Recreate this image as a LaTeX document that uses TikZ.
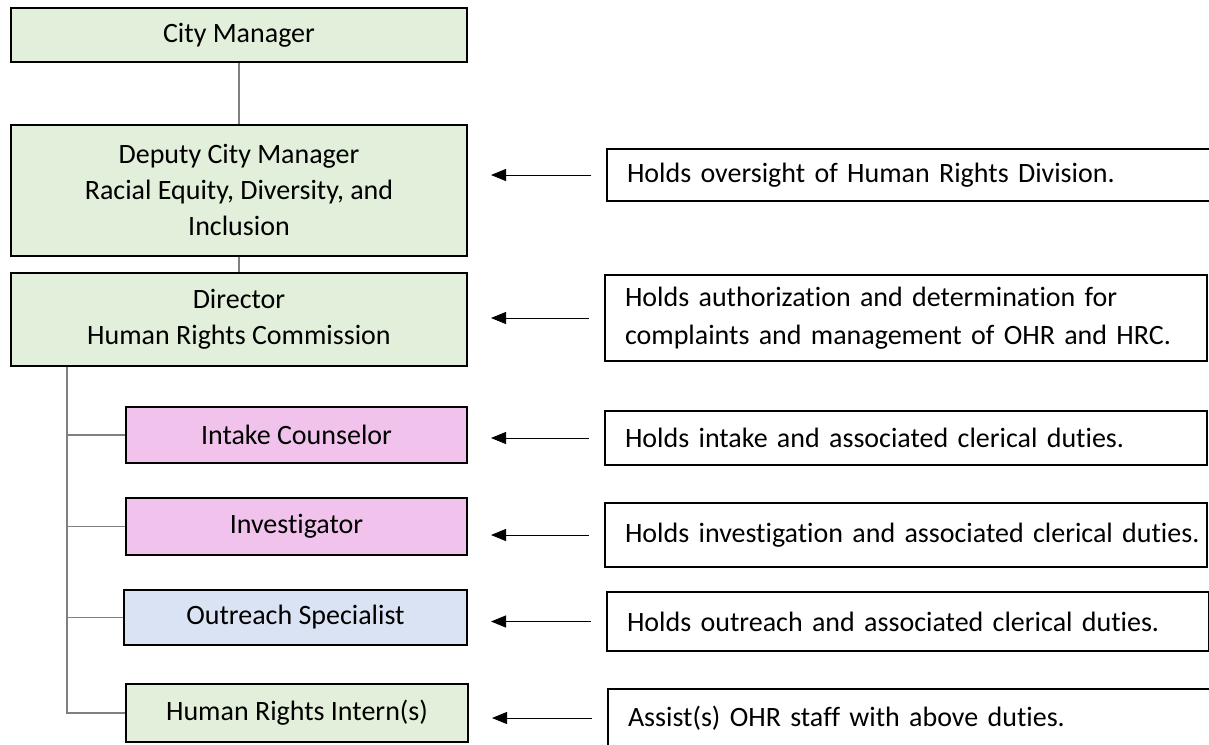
\documentclass[tikz,border=0pt]{standalone}
\usepackage{fontspec}
\setmainfont{Carlito}[Ligatures=NoCommon]
\usetikzlibrary{arrows.meta}
\definecolor{postgreen}{HTML}{E2EFDA}
\definecolor{postpink}{HTML}{F1C3EC}
\definecolor{postblue}{HTML}{DAE3F3}
\definecolor{linkgray}{HTML}{808080}
\tikzset{
    post/.style={draw=black, line width=2pt, align=center, inner sep=0pt, font=\fontsize{28}{36}\selectfont},
    duty/.style={draw=black, line width=2pt, align=left, anchor=west, inner xsep=20pt, inner ysep=0pt, text width=562pt, font=\fontsize{28}{38}\selectfont},
    link/.style={draw=linkgray, line width=1.3pt},
    pointer/.style={-{Triangle[length=15pt,width=12pt]}, line width=1pt, shorten <=15pt, shorten >=23pt}
}

\begin{document}
\begin{tikzpicture}[x=1pt,y=-1pt]
    \useasboundingbox (0,0) rectangle (1209,744);
    \node[post, fill=postgreen, minimum width=456pt, minimum height=54pt] (cm) at (239,35) {City Manager};
    \node[post, fill=postgreen, minimum width=456pt, minimum height=131pt] (dcm) at (239,190) {Deputy City Manager\\Racial Equity, Diversity, and\\Inclusion};
    \node[post, fill=postgreen, minimum width=456pt, minimum height=93pt] (dir) at (239,319) {Director\\Human Rights Commission};
    \node[post, fill=postpink, minimum width=341pt, minimum height=56pt] (intake) at (296.5,435) {Intake Counselor};
    \node[post, fill=postpink, minimum width=341pt, minimum height=57pt] (inv) at (296.5,526.5) {Investigator};
    \node[post, fill=postblue, minimum width=343pt, minimum height=55pt] (outreach) at (295.5,617.5) {Outreach Specialist};
    \node[post, fill=postgreen, minimum width=342pt, minimum height=58pt] (intern) at (297,713) {Human Rights Intern(s)};

    \node[duty, minimum height=52pt, text width=580pt] (d1) at (606,175) {Holds oversight of Human Rights Division.};
    \node[duty, minimum height=86pt] (d2) at (604,318) {Holds authorization and determination for\\complaints and management of OHR and HRC.};
    \node[duty, minimum height=54pt] (d3) at (604,438) {Holds intake and associated clerical duties.};
    \node[duty, minimum height=64pt] (d4) at (604,535) {\mbox{Holds investigation and associated clerical duties.}};
    \node[duty, minimum height=59pt] (d5) at (606,621.5) {Holds outreach and associated clerical duties.};
    \node[duty, minimum height=58pt, text width=580pt] (d6) at (607,718) {Assist(s) OHR staff with above duties.};

    \coordinate (trunk) at (67,0);
    \draw[link] (cm.south) -- (dcm.north);
    \draw[link] (dcm.south) -- (dir.north);
    \draw[link] (dir.south -| trunk) |- (intern.west);
    \draw[link] (trunk |- intake.west) -- (intake.west);
    \draw[link] (trunk |- inv.west) -- (inv.west);
    \draw[link] (trunk |- outreach.west) -- (outreach.west);

    \draw[pointer] (d1.west) -- (d1.west -| dcm.east);
    \draw[pointer] (d2.west) -- (d2.west -| dir.east);
    \draw[pointer] (d3.west) -- (d3.west -| intake.east);
    \draw[pointer] (d4.west) -- (d4.west -| inv.east);
    \draw[pointer] (d5.west) -- (d5.west -| outreach.east);
    \draw[pointer] (d6.west) -- (d6.west -| intern.east);
\end{tikzpicture}
\end{document}
